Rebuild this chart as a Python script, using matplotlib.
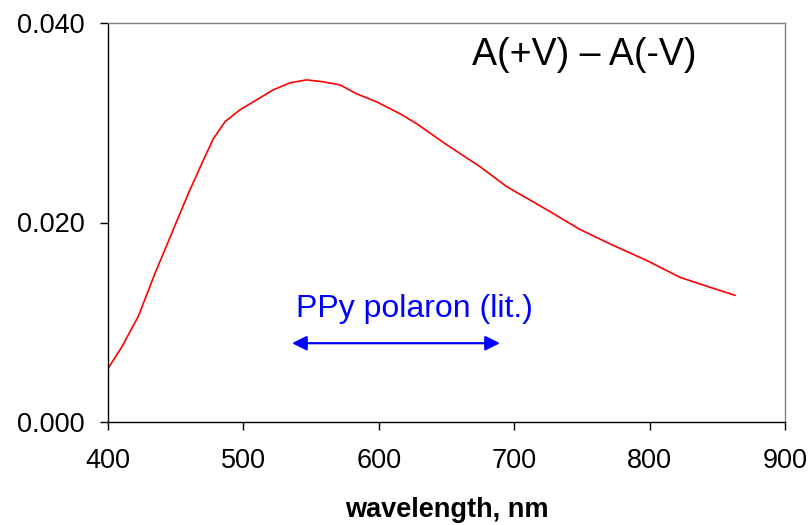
import matplotlib
matplotlib.use("Agg")
import matplotlib.pyplot as plt

wavelength = [400.2, 410.1, 422.4, 434.7, 447.0, 459.3, 471.6, 477.8, 486.4, 497.5,
              509.8, 522.1, 534.4, 546.7, 559.0, 571.3, 583.6, 598.4, 615.7, 628.0,
              650.1, 674.7, 694.4, 723.9, 748.6, 773.2, 797.8, 822.5, 847.1, 863.1]
delta_abs = [0.0054, 0.0075, 0.0106, 0.0149, 0.0189, 0.0229, 0.0266, 0.0284, 0.0301, 0.0313,
             0.0323, 0.0333, 0.0340, 0.0343, 0.0341, 0.0338, 0.0329, 0.0321, 0.0309, 0.0299,
             0.0278, 0.0256, 0.0236, 0.0213, 0.0193, 0.0177, 0.0162, 0.0145, 0.0134, 0.0127]
polaron_range = [535.9, 689.5]
polaron_level = 0.0079
x_ticks = [400, 500, 600, 700, 800, 900]
y_ticks = [0.000, 0.020, 0.040]
y_tick_labels = ["0.000", "0.020", "0.040"]

plt.rcParams['font.family'] = ['Liberation Sans', 'DejaVu Sans']

fig = plt.figure(figsize=(8.12, 5.25), dpi=100)
ax = fig.add_axes([108/812, 1-422/525, (785-108)/812, (422-23)/525])

ax.plot(wavelength, delta_abs, color='#ff0000', lw=1.2)

ax.set_xlim(400, 900)
ax.set_ylim(0, 0.040)
ax.set_xticks(x_ticks)
ax.set_yticks(y_ticks)
ax.set_yticklabels(y_tick_labels)

for s in ['left', 'bottom']:
    ax.spines[s].set_color('black')
    ax.spines[s].set_linewidth(1.0)
for s in ['top', 'right']:
    ax.spines[s].set_color('#808080')
    ax.spines[s].set_linewidth(1.0)

ax.tick_params(axis='x', direction='out', length=6, width=1, labelsize=19.5, pad=13)
ax.tick_params(axis='y', direction='out', length=6, width=1, labelsize=19.5, pad=11)

ax.set_xlabel('wavelength, nm', fontsize=19.5, fontweight='bold', labelpad=16)

ax.text(751.6, 0.0368, 'A(+V) \u2013 A(-V)', fontsize=27, ha='center', va='center', color='black')
ax.text(626, 0.0113, 'PPy polaron (lit.)', fontsize=23, ha='center', va='center', color='#0000ff')
ax.annotate('', xy=(polaron_range[0], polaron_level), xytext=(polaron_range[1], polaron_level),
            arrowprops=dict(arrowstyle='<|-|>', color='#0000ff', lw=1.6, mutation_scale=22,
                            shrinkA=0, shrinkB=0))

fig.savefig('out.png', dpi=100)
